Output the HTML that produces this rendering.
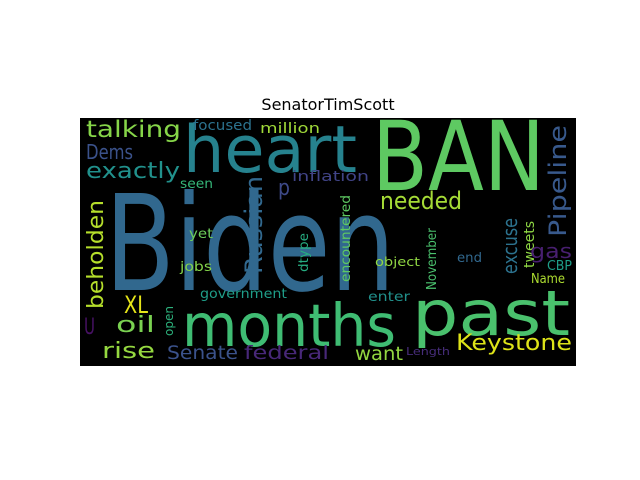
<!DOCTYPE html>
<html><head><meta charset="utf-8"><style>
html,body{margin:0;padding:0;background:#fff;}
svg{display:block;}
text{font-family:"DejaVu Sans","Liberation Sans",sans-serif;}
</style></head><body>
<svg id="chart" width="640" height="480" viewBox="0 0 640 480">
<rect width="640" height="480" fill="#fff"/>
<text x="328" y="110" text-anchor="middle" font-size="16" fill="#000">SenatorTimScott</text>
<rect x="80" y="118" width="496" height="248" fill="#000"/>
<g id="words"></g>
</svg>
<script>
// word, x-start, baseline, font-size, text length, rotation(0/-90), colour
const words=["Biden","BAN","heart","months","past","talking","focused","million","Dems","exactly","seen","inflation","p","Russian","needed","Pipeline","excuse","tweets","beholden","yet","jobs","dtype","encountered","November","object","end","gas","CBP","Name","enter","XL","government","open","U","oil","rise","Senate","federal","want","Keystone","Length"];
const xs=[105,372,183,182,412,86,193,260,86,86,180,292,278,262,380,566,517,534,103,189,180,308,350,436,375,457,530,547,531,368,124,200,173,84,116,102,167,244,355,456,406];
const ys=[290,190,172,346,335,137,130,133,159,178,188,181,195,274,209,237,274,268,309,238,271,272,282,290,266,262,258,270,283,301,313,298,336,334,332,358,359,359,360,350,355];
const sizes=[133,96,65,59,62,23,14,14,20,22,13,14,22,24,24,24,20,14,22,13,13,13,13,13,12,13,20,13,13,13,24,13,12,22,22,22,19,19,19,22,11];
const lens=[290,173,174,214,158,95,59,60,47,94,33,77,12,98,82,112,56,47,109,24,32,39,87,62,45,25,42,25,34,42,24,87,30,11,39,53,71,85,48,116,44];
const rots=[0,0,0,0,0,0,0,0,0,0,0,0,0,-90,0,-90,-90,-90,-90,0,0,-90,-90,-90,0,0,0,0,0,0,0,0,-90,0,0,0,0,0,0,0,0];
const colors=["#31688e","#5ec962","#26828e","#3fbc73","#4ac16d","#86d549","#2c728e","#a0da39","#3b528b","#21918c","#35b779","#414487","#3e4a89","#31688e","#a5db36","#38598c","#2c728e","#8fd744","#b5de2b","#6ccd5a","#84d44b","#26ad81","#5ec962","#4ac16d","#90d743","#31688e","#481f70","#1f9e89","#addc30","#21918c","#e5e419","#1f9e89","#2db27d","#471164","#7ad151","#95d840","#3b528b","#482878","#93d741","#dde318","#472d7b"];
const g=document.getElementById('words');
const NS="http://www.w3.org/2000/svg";
words.forEach((w,i)=>{
  const t=document.createElementNS(NS,'text');
  t.setAttribute('x',xs[i]);t.setAttribute('y',ys[i]);
  t.setAttribute('font-size',sizes[i]);
  t.setAttribute('fill',colors[i]);
  t.setAttribute('textLength',lens[i]);
  t.setAttribute('lengthAdjust','spacingAndGlyphs');
  if(rots[i]) t.setAttribute('transform','rotate('+rots[i]+' '+xs[i]+' '+ys[i]+')');
  t.textContent=w;
  
  
  g.appendChild(t);
});
</script>
</body></html>
